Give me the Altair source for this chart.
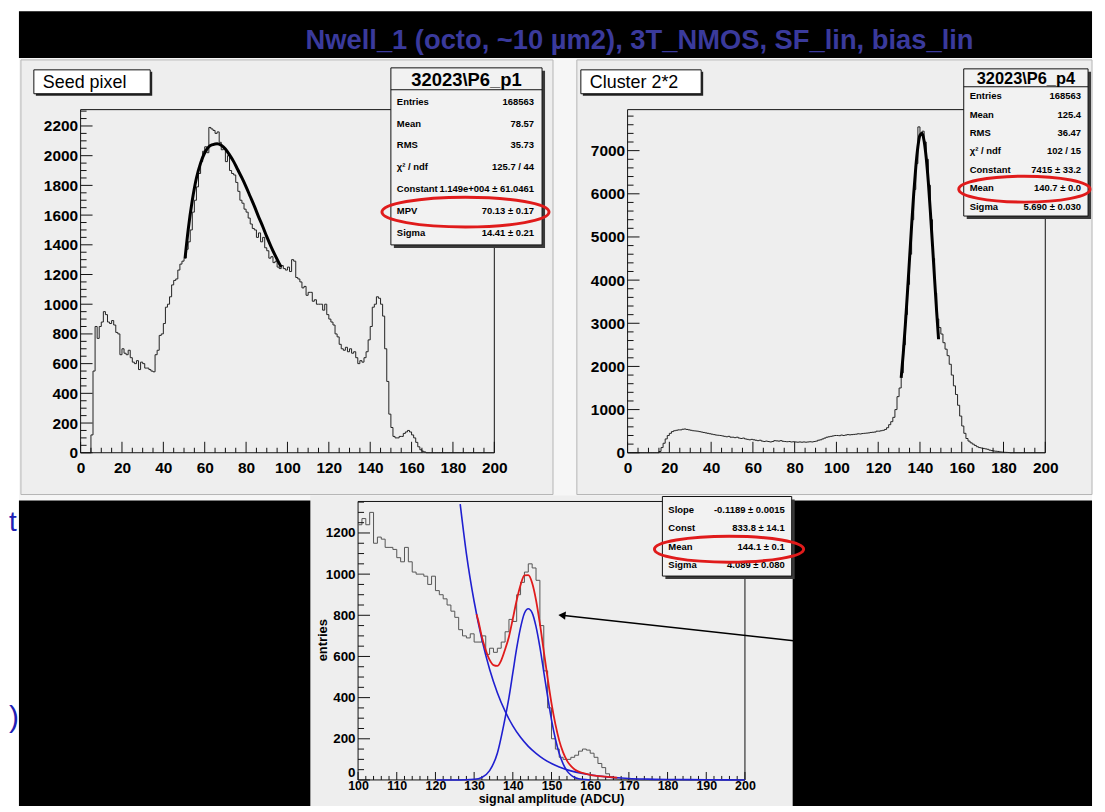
import altair as alt
import pandas as pd

FONT = "Liberation Sans"
TITLE = "Nwell_1 (octo, ~10 µm2), 3T_NMOS, SF_lin, bias_lin"
TITLE_COLOR = "#3a3a9c"
SLIDE_BLUE = "#2020b4"
PANEL = "#eeeeee"
OUTER = "#f6f6f6"
BOX_FILL = "#f2f2f2"
RED = "#e01b1b"
BLUE = "#1f1fd0"

# ---------------- data ----------------
# Seed pixel histogram, 1 ADC bins starting at 0
LEFT_COUNTS = [
    0, 0, 0, 0, 0, 120, 550, 850, 770, 850,
    880, 950, 930, 880, 870, 890, 860, 810, 800, 660,
    700, 670, 660, 690, 640, 610, 600, 620, 560, 610,
    600, 570, 570, 560, 550, 545, 660, 690, 790, 800,
    870, 980, 1000, 1050, 1130, 1160, 1170, 1230, 1270, 1290,
    1310, 1370, 1420, 1500, 1620, 1700, 1790, 1880, 1960, 2030,
    2060, 2020, 2190, 2180, 2170, 2150, 2160, 2090, 2040, 2050,
    1960, 2000, 1900, 1880, 1870, 1820, 1760, 1700, 1680, 1640,
    1620, 1580, 1540, 1510, 1500, 1450, 1480, 1420, 1450, 1380,
    1360, 1310, 1320, 1280, 1290, 1250, 1240, 1260, 1240, 1230,
    1250, 1220, 1300, 1290, 1180, 1170, 1150, 1110, 1120, 1060,
    1080, 1080, 1020, 1030, 1000, 1000, 1000, 960, 1000, 930,
    900, 880, 860, 800, 780, 730, 700, 690, 710, 680,
    700, 670, 680, 640, 600, 620, 610, 640, 680, 760,
    850, 980, 1000, 1050, 1040, 1000, 920, 700, 480, 260,
    170, 110, 100, 100, 110, 110, 130, 140, 150, 140,
    120, 100, 70, 40, 20, 10, 5, 0, 0, 0,
    0, 0, 0, 0, 0, 0, 0, 0, 0, 0,
    0, 0, 0, 0, 0, 0, 0, 0, 0, 0,
    0, 0, 0, 0, 0, 0, 0, 0, 0, 0,
]
LEFT_FIT_X = [50.5, 52, 54, 56, 58, 60, 62, 64, 66, 68, 70, 72, 74, 76, 78,
              80, 82, 84, 86, 88, 90, 92, 94, 96, 97]
LEFT_FIT_Y = [1310, 1500, 1700, 1850, 1950, 2020, 2060, 2075, 2080, 2070, 2045,
              2005, 1960, 1905, 1850, 1790, 1725, 1660, 1590, 1525, 1455, 1390,
              1330, 1275, 1250]

# Cluster 2*2 histogram, 1 ADC bins starting at 0
RIGHT_COUNTS = [
    0, 0, 0, 0, 0, 0, 0, 0, 0, 0,
    0, 0, 0, 0, 0, 30, 120, 220, 320, 400,
    450, 490, 510, 520, 530, 530, 545, 550, 540, 530,
    520, 510, 505, 500, 490, 480, 470, 460, 450, 440,
    430, 420, 410, 405, 400, 390, 380, 370, 380, 360,
    360, 350, 360, 340, 330, 340, 320, 310, 300, 310,
    300, 290, 280, 290, 270, 260, 270, 260, 250, 260,
    280, 275, 270, 280, 265, 260, 255, 260, 250, 255,
    250, 245, 250, 245, 250, 245, 250, 255, 250, 260,
    270, 290, 300, 320, 340, 360, 370, 380, 390, 400,
    400, 395, 410, 400, 410, 420, 415, 420, 425, 430,
    440, 435, 445, 450, 455, 460, 470, 475, 480, 500,
    500, 510, 520, 540, 580, 650, 720, 820, 1000, 1300,
    1500, 1850, 2500, 3200, 3900, 4600, 5400, 6100, 6700, 7550,
    7350, 7450, 7200, 6800, 6200, 5400, 4500, 3700, 3100, 2900,
    2750, 2550, 2400, 2250, 2050, 1800, 1550, 1350, 1100, 850,
    620, 450, 330, 270, 230, 200, 170, 140, 120, 110,
    100, 90, 80, 60, 50, 40, 35, 30, 20, 15,
    10, 8, 5, 0, 0, 0, 0, 0, 0, 0,
    0, 0, 0, 0, 0, 0, 0, 0, 0, 0,
]
RIGHT_FIT_X = [131, 132, 133, 134, 135, 136, 137, 138, 139, 140, 141, 142, 143,
               144, 145, 146, 147, 148, 148.9]
RIGHT_FIT_Y = [1735, 2300, 2970, 3710, 4490, 5270, 6000, 6620, 7090, 7360, 7405,
               7220, 6830, 6270, 5570, 4810, 4020, 3260, 2630]

# Zoomed histogram, 1 ADC bins starting at 100
BOTTOM_START = 100
BOTTOM_COUNTS = [
    1240, 1270, 1240, 1300, 1150, 1180, 1170, 1130, 1130, 1120,
    1080, 1060, 1130, 1060, 1010, 1000, 1000, 990, 950, 990,
    920, 900, 880, 850, 820, 790, 730, 700, 690, 710,
    670, 670, 700, 610, 640, 620, 640, 670, 720, 780,
    770, 900, 960, 1010, 1050, 1030, 970, 750, 530, 350,
    200, 150, 110, 100, 100, 110, 120, 140, 150, 145,
    130, 110, 80, 60, 30, 15, 5, 3, 0, 0,
    0, 0, 0, 0, 0, 0, 0, 0, 0, 0,
    0, 0, 0, 0, 0, 0, 0, 0, 0, 0,
    0, 0, 0, 0, 0, 0, 0, 0, 0, 0,
]
EXP_X = [126.4, 128, 130, 132, 134, 136, 138, 140, 142, 144, 146, 148, 150, 152,
         155, 158, 162, 166, 170, 175, 180, 190, 200]
EXP_Y = [1340, 1100, 867, 683, 538, 424, 334, 263, 207, 163, 129, 101, 80, 63,
         44, 31, 19, 12, 7, 4, 2, 1, 0]
GAUS_X = [120.3, 126, 130, 132, 134, 136, 138, 139, 140, 141, 142, 143, 144, 145,
          146, 147, 148, 149, 150, 151, 152, 153, 154, 155, 156, 157, 158, 160]
GAUS_Y = [0, 0, 3, 12, 45, 130, 300, 400, 520, 640, 740, 810, 832, 812, 745, 645,
          525, 405, 292, 200, 128, 78, 44, 24, 12, 6, 3, 0]
SUM_X = [130.6, 131, 132, 133, 134, 135, 136, 137, 138, 139, 140, 141, 142, 143,
         144, 145, 146, 147, 148, 149, 150, 151, 152, 153, 154, 155, 156, 158,
         160, 164, 167]
SUM_Y = [805, 780, 695, 631, 583, 558, 554, 581, 634, 696, 783, 873, 947, 994,
         995, 957, 874, 759, 626, 495, 372, 271, 191, 134, 94, 68, 51, 34, 25,
         16, 11]

LEFT_STATS = [("Entries", "168563"), ("Mean", "78.57"), ("RMS", "35.73"),
              ("χ² / ndf", "125.7 / 44"), ("Constant", "1.149e+004 ± 61.0461"),
              ("MPV", "70.13 ± 0.17"), ("Sigma", "14.41 ± 0.21")]
RIGHT_STATS = [("Entries", "168563"), ("Mean", "125.4"), ("RMS", "36.47"),
               ("χ² / ndf", "102 / 15"), ("Constant", "7415 ± 33.2"),
               ("Mean", "140.7 ± 0.0"), ("Sigma", "5.690 ± 0.030")]
BOTTOM_STATS = [("Slope", "-0.1189 ± 0.0015"), ("Const", "833.8 ± 14.1"),
                ("Mean", "144.1 ± 0.1"), ("Sigma", "4.089 ± 0.080")]

L_X_LABELS = list(range(0, 201, 20))
L_X_MINOR = [v for v in range(0, 201, 5) if v % 20]
L_Y_LABELS = list(range(0, 2201, 200))
L_Y_MINOR = [v for v in range(0, 2301, 50) if v % 200]
R_X_LABELS = list(range(0, 201, 20))
R_X_MINOR = [v for v in range(0, 201, 5) if v % 20]
R_Y_LABELS = list(range(0, 7001, 1000))
R_Y_MINOR = [v for v in range(0, 7901, 200) if v % 1000]
B_X_LABELS = list(range(100, 201, 10))
B_X_MINOR = [v for v in range(100, 201, 2) if v % 10]
B_Y_LABELS = list(range(0, 1201, 200))
B_Y_MINOR = [v for v in range(0, 1351, 50) if v % 200]

ONE = pd.DataFrame({"d": [0]})
BOTTOM_EDGE = 808  # window y where the slide backgrounds stop (svg clips at 804)


def hist_df(start, counts):
    xs = list(range(start, start + len(counts) + 1))
    ys = list(counts) + [counts[-1]]
    return pd.DataFrame({"x": xs, "y": ys})


def ellipse_path(e):
    k = 0.5523
    return (f"M -1 0 C -1 {-e*k:.4f} {-k} {-e:.4f} 0 {-e:.4f} "
            f"C {k} {-e:.4f} 1 {-e*k:.4f} 1 0 "
            f"C 1 {e*k:.4f} {k} {e:.4f} 0 {e:.4f} "
            f"C {-k} {e:.4f} -1 {e*k:.4f} -1 0 Z")


def axis(values, size, padding, **kw):
    return alt.Axis(values=values, format="d", ticks=False, domain=False, grid=False,
                    labelFont=FONT, labelFontWeight="bold", labelFontSize=size,
                    labelColor="black", labelPadding=padding, labelFlush=False,
                    labelOverlap=False, zindex=1, **kw)


class Panel:
    """ox, oy: window position of the view origin; px: window x of the plot frame.
    Every layer with x/y fields carries the same axis definition."""

    def __init__(self, ox, oy, w, h, xs, ys, xaxis, yaxis, px=None, pw=None):
        self.ox, self.oy, self.w, self.h = ox, oy, w, h
        self.xs, self.ys, self.xaxis, self.yaxis = xs, ys, xaxis, yaxis
        self.px = ox if px is None else px
        self.pw = w if pw is None else pw
        self.layers = []

    def X(self, field):
        return alt.X(field, scale=self.xs, axis=self.xaxis)

    def Y(self, field):
        return alt.Y(field, scale=self.ys, axis=self.yaxis)

    def rect(self, x1, y1, x2, y2, **kw):
        self.layers.append(alt.Chart(ONE).mark_rect(**kw).encode(
            x=alt.value(x1 - self.ox), x2=alt.value(x2 - self.ox),
            y=alt.value(y1 - self.oy), y2=alt.value(y2 - self.oy)))

    def seg(self, x1, y1, x2, y2, color="#111", width=1):
        self.layers.append(alt.Chart(ONE).mark_rule(color=color, strokeWidth=width).encode(
            x=alt.value(x1 - self.ox), x2=alt.value(x2 - self.ox),
            y=alt.value(y1 - self.oy), y2=alt.value(y2 - self.oy)))

    def text(self, s, x, y, size=9.5, weight="bold", align="left",
             baseline="middle", color="black"):
        self.layers.append(alt.Chart(ONE).mark_text(
            text=s, font=FONT, fontSize=size, fontWeight=weight, align=align,
            baseline=baseline, color=color).encode(
            x=alt.value(x - self.ox), y=alt.value(y - self.oy)))

    def ellipse(self, cx, cy, rx, ry, color=RED, width=3):
        self.layers.append(alt.Chart(ONE).mark_point(
            shape=ellipse_path(ry / rx), size=(2 * rx) ** 2, filled=False,
            color=color, strokeWidth=width, opacity=1).encode(
            x=alt.value(cx - self.ox), y=alt.value(cy - self.oy)))

    def frame(self):
        self.rect(self.px, self.oy, self.px + self.pw, self.oy + self.h,
                  fillOpacity=0, stroke="#111", strokeWidth=1)

    def label_box(self, x1, y1, x2, y2, s, tx, size=18):
        self.rect(x1 + 2, y1 + 2, x2 + 2, y2 + 2, fill="#222")
        self.rect(x1, y1, x2, y2, fill="white", stroke="#111", strokeWidth=1)
        self.text(s, tx, (y1 + y2) / 2 + 1, size=size, weight="normal")

    def stats(self, x1, y1, x2, y2, rows, row_ys, lx, rx, header=None,
              line_y=None, header_size=18, size=9.5):
        self.rect(x1 + 3, y1 + 3, x2 + 3, y2 + 3, fill="#3a3a3a")
        self.rect(x1, y1, x2, y2, fill=BOX_FILL, stroke="#111", strokeWidth=1)
        if header:
            self.seg(x1, line_y, x2, line_y)
            self.text(header, (x1 + x2) / 2, (y1 + line_y) / 2 + 1,
                      size=header_size, align="center")
        for (lab, val), yy in zip(rows, row_ys):
            self.text(lab, lx, yy, size=size)
            self.text(val, rx, yy, size=size, align="right")

    def ticks(self, xmaj, xmin, ymaj, ymin, xl=(11, 5), yl=(12, 6)):
        x0 = self.px - self.ox
        for vals, ln in ((xmaj, xl[0]), (xmin, xl[1])):
            self.layers.append(alt.Chart(pd.DataFrame({"x": vals})).mark_rule(
                color="#111", strokeWidth=1).encode(
                x=self.X("x:Q"), y=alt.value(self.h), y2=alt.value(self.h - ln)))
        for vals, ln in ((ymaj, yl[0]), (ymin, yl[1])):
            self.layers.append(alt.Chart(pd.DataFrame({"y": vals})).mark_rule(
                color="#111", strokeWidth=1).encode(
                y=self.Y("y:Q"), x=alt.value(x0), x2=alt.value(x0 + ln)))

    def line(self, df, color, width, interp):
        self.layers.append(alt.Chart(df).mark_line(
            color=color, strokeWidth=width, interpolate=interp).encode(
            x=self.X("x:Q"), y=self.Y("y:Q")))

    def chart(self):
        return alt.layer(*self.layers).properties(width=self.w, height=self.h)


# ---------------- left panel (also carries the slide background) ----------------
L = Panel(80, 107, 416, 345,
          alt.Scale(domain=[0, 200], nice=False, zero=False),
          alt.Scale(domain=[0, 2310], nice=False),
          axis(L_X_LABELS, 15.5, 8, title=None), axis(L_Y_LABELS, 15.5, 3, title=None))
L.rect(8, 8, 1097, BOTTOM_EDGE, fill="white")
L.rect(18, 8, 1097, 55, fill="black")
L.rect(18, 55, 1097, 500, fill=OUTER)
L.rect(18, 500, 1097, BOTTOM_EDGE, fill="black")
L.rect(20, 57, 555, 494, fill=PANEL, stroke="#b4b4b4", strokeWidth=1)
L.rect(579, 57, 1097, 494, fill=PANEL, stroke="#b4b4b4", strokeWidth=1)
L.rect(311, 495, 796, BOTTOM_EDGE, fill=PANEL)
L.text(TITLE, 642, 46, size=27.5, align="center", baseline="alphabetic", color=TITLE_COLOR)
L.text("t", 8, 531, size=28, weight="normal", baseline="alphabetic", color=SLIDE_BLUE)
L.text(")", 8, 728, size=30, weight="normal", baseline="alphabetic", color=SLIDE_BLUE)
L.frame()
L.line(hist_df(0, LEFT_COUNTS), "#222", 1, "step-after")
L.ticks(L_X_LABELS, L_X_MINOR, L_Y_LABELS, L_Y_MINOR)
L.line(pd.DataFrame({"x": LEFT_FIT_X, "y": LEFT_FIT_Y}), "black", 3, "monotone")
L.label_box(33, 67, 150, 91, "Seed pixel", 42)
L.stats(392, 65, 544, 243, LEFT_STATS, [99, 121, 143, 165, 187, 209, 231], 398, 536,
        header="32023\\P6_p1", line_y=87, header_size=18.5)
L.ellipse(467, 210, 84, 15)

# ---------------- right panel ----------------
R = Panel(630, 107, 420, 345,
          alt.Scale(domain=[0, 200], nice=False, zero=False),
          alt.Scale(domain=[0, 7950], nice=False),
          axis(R_X_LABELS, 15.5, 8, title=None), axis(R_Y_LABELS, 15.5, 3, title=None))
R.frame()
R.line(hist_df(0, RIGHT_COUNTS), "#222", 1, "step-after")
R.ticks(R_X_LABELS, R_X_MINOR, R_Y_LABELS, R_Y_MINOR)
R.line(pd.DataFrame({"x": RIGHT_FIT_X, "y": RIGHT_FIT_Y}), "black", 3, "monotone")
R.label_box(583, 67, 704, 91, "Cluster 2*2", 592)
R.stats(968, 66, 1093, 214, RIGHT_STATS, [93.5, 112, 130.5, 149, 168, 186, 204.5], 974, 1086,
        header="32023\\P6_p4", line_y=84, header_size=16.5)
R.ellipse(1029, 187, 66, 13)

# ---------------- bottom zoomed panel ----------------
# its view sits under the left panel (origin x = 80); the x scale range puts
# the plot frame at window x 359..748
B_SHIFT = 279
B_W = 389
B = Panel(80, 501, 400, 280,
          alt.Scale(domain=[100, 200], range=[B_SHIFT, B_SHIFT + B_W], nice=False, zero=False),
          alt.Scale(domain=[0, 1353], nice=False),
          axis(B_X_LABELS, 12.5, 0, title="signal amplitude (ADCU)", titleFont=FONT,
               titleFontSize=12.5, titleFontWeight="bold", titleColor="black",
               titleX=B_SHIFT + 194, titleY=22.5, titleAlign="center",
               titleBaseline="alphabetic"),
          axis(B_Y_LABELS, 13.5, 3, offset=-B_SHIFT, title="entries", titleFont=FONT,
               titleFontSize=13, titleFontWeight="bold", titleColor="black",
               titleX=-36, titleY=139, titleAngle=270, titleAlign="center",
               titleBaseline="middle",
               labelOffset={"condition": {"test": "datum.value === 0", "value": -7},
                            "value": 0}),
          px=80 + B_SHIFT, pw=B_W)
B.frame()
B.line(hist_df(BOTTOM_START, BOTTOM_COUNTS), "#555", 1, "step-after")
B.ticks(B_X_LABELS, B_X_MINOR, B_Y_LABELS, B_Y_MINOR, xl=(8, 4), yl=(12, 6))
B.line(pd.DataFrame({"x": EXP_X, "y": EXP_Y}), BLUE, 1.6, "monotone")
B.line(pd.DataFrame({"x": GAUS_X, "y": GAUS_Y}), BLUE, 1.6, "monotone")
B.line(pd.DataFrame({"x": SUM_X, "y": SUM_Y}), RED, 1.8, "monotone")
B.stats(665, 496, 795, 576, BOTTOM_STATS, [510, 528, 547, 565], 671, 788)
B.ellipse(732, 549, 75, 13)
B.seg(566, 615.7, 797, 641, color="black", width=1.4)
B.layers.append(alt.Chart(ONE).mark_point(shape="triangle-left", size=70, filled=True,
                                          color="black", opacity=1, angle=6).encode(
    x=alt.value(564 - B.ox), y=alt.value(615.4 - B.oy)))

chart = alt.concat(
    L.chart(), R.chart(), B.chart(),
    columns=2, spacing={"row": 49, "column": 134}, align="none", bounds="flush",
).properties(
    # a negative bottom padding crops the slide at the foot of the window,
    # as in the reference screenshot
    padding={"left": 0, "top": 0, "right": 0, "bottom": -4},
    background="white",
).configure_view(stroke="transparent")

chart.save("out.html", embed_options={"renderer": "svg", "actions": False})
